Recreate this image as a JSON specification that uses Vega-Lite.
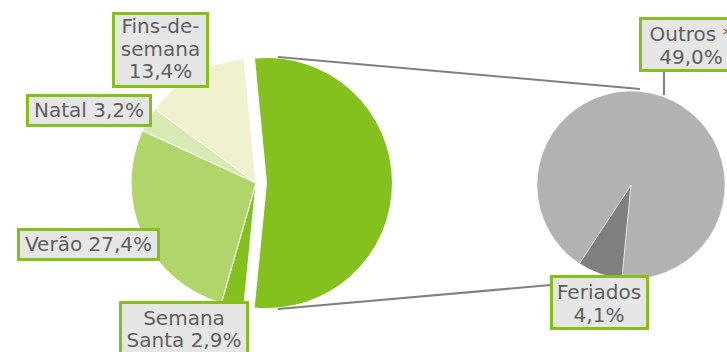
{
  "$schema": "https://vega.github.io/schema/vega-lite/v6.json",
  "width": 727,
  "height": 352,
  "padding": 0,
  "autosize": {"type": "none"},
  "background": "white",
  "config": {
    "view": {"stroke": null},
    "axis": {"disable": true},
    "legend": {"disable": true},
    "text": {"font": "DejaVu Sans", "fontSize": 20, "fill": "#5f5f5f", "lineBreak": "\n", "lineHeight": 22.5, "align": "center", "baseline": "middle"}
  },
  "datasets": {
    "main": [
      {"slice": "Outros e Feriados", "value": 53.1, "label": ""},
      {"slice": "Semana Santa", "value": 2.9, "label": "Semana\nSanta 2,9%"},
      {"slice": "Verão", "value": 27.4, "label": "Verão 27,4%"},
      {"slice": "Natal", "value": 3.2, "label": "Natal 3,2%"},
      {"slice": "Fins-de-semana", "value": 13.4, "label": "Fins-de-\nsemana\n13,4%"}
    ],
    "sub": [
      {"slice": "Feriados", "value": 4.1, "label": "Feriados\n4,1%"},
      {"slice": "Outros *", "value": 49.0, "label": "Outros *\n49,0%"}
    ]
  },
  "resolve": {"scale": {"theta": "independent"}},
  "layer": [
    {
      "data": {"name": "main"},
      "transform": [{"filter": "datum.slice === 'Outros e Feriados'"}],
      "layer": [
        {
          "mark": {"type": "rule", "stroke": "#808080", "strokeWidth": 2},
          "encoding": {
            "x": {"datum": 278, "type": "quantitative", "scale": {"domain": [0, 727], "nice": false, "zero": false}},
            "y": {"datum": 57, "type": "quantitative", "scale": {"domain": [0, 352], "nice": false, "zero": false, "reverse": true}},
            "x2": {"datum": 640},
            "y2": {"datum": 89}
          }
        },
        {
          "mark": {"type": "rule", "stroke": "#808080", "strokeWidth": 2},
          "encoding": {
            "x": {"datum": 278, "type": "quantitative"},
            "y": {"datum": 309, "type": "quantitative"},
            "x2": {"datum": 631},
            "y2": {"datum": 278}
          }
        },
        {
          "mark": {"type": "rule", "stroke": "#808080", "strokeWidth": 2},
          "encoding": {
            "x": {"datum": 664, "type": "quantitative"},
            "y": {"datum": 72, "type": "quantitative"},
            "x2": {"datum": 664},
            "y2": {"datum": 95}
          }
        }
      ]
    },
    {
      "data": {"name": "main"},
      "transform": [{"window": [{"op": "row_number", "as": "i"}]}],
      "mark": {"type": "arc", "radius": 125, "stroke": "white", "strokeWidth": 1},
      "encoding": {
        "x": {"datum": 256, "type": "quantitative"},
        "y": {"datum": 183, "type": "quantitative"},
        "theta": {"field": "value", "type": "quantitative", "stack": true, "scale": {"range": [-0.096, 6.187]}},
        "order": {"field": "i", "type": "quantitative"},
        "color": {"field": "slice", "type": "nominal", "scale": {
          "domain": ["Outros e Feriados", "Semana Santa", "Verão", "Natal", "Fins-de-semana", "Feriados", "Outros *"],
          "range": ["#84c01e", "#84c01e", "#b0d66b", "#d8eab4", "#f1f1cf", "#7f7f7f", "#b2b2b2"]}},
        "opacity": {"condition": {"test": "datum.slice === 'Outros e Feriados'", "value": 0}, "value": 1}
      }
    },
    {
      "data": {"name": "main"},
      "transform": [{"window": [{"op": "row_number", "as": "i"}]}],
      "mark": {"type": "arc", "radius": 125},
      "encoding": {
        "x": {"datum": 267, "type": "quantitative"},
        "y": {"datum": 183, "type": "quantitative"},
        "theta": {"field": "value", "type": "quantitative", "stack": true, "scale": {"range": [-0.096, 6.187]}},
        "order": {"field": "i", "type": "quantitative"},
        "color": {"field": "slice", "type": "nominal"},
        "opacity": {"condition": {"test": "datum.slice === 'Outros e Feriados'", "value": 1}, "value": 0}
      }
    },
    {
      "data": {"name": "sub"},
      "transform": [{"window": [{"op": "row_number", "as": "i"}]}],
      "mark": {"type": "arc", "radius": 94, "stroke": "white", "strokeWidth": 0.5},
      "encoding": {
        "x": {"datum": 631, "type": "quantitative"},
        "y": {"datum": 185, "type": "quantitative"},
        "theta": {"field": "value", "type": "quantitative", "stack": true, "scale": {"range": [3.238, 9.521]}},
        "order": {"field": "i", "type": "quantitative"},
        "color": {"field": "slice", "type": "nominal"}
      }
    },
    {
      "data": {"name": "main"},
      "transform": [{"filter": "datum.slice === 'Fins-de-semana'"}],
      "layer": [
        {"mark": {"type": "rect", "fill": "#e6e6e6", "stroke": "#84bf1c", "strokeWidth": 3},
         "encoding": {"x": {"datum": 113.5, "type": "quantitative"}, "x2": {"datum": 207.5}, "y": {"datum": 13.5, "type": "quantitative"}, "y2": {"datum": 86.5}}},
        {"mark": {"type": "text"},
         "encoding": {"x": {"datum": 160.5, "type": "quantitative"}, "y": {"datum": 27, "type": "quantitative"}, "text": {"field": "label"}}}
      ]
    },
    {
      "data": {"name": "main"},
      "transform": [{"filter": "datum.slice === 'Natal'"}],
      "layer": [
        {"mark": {"type": "rect", "fill": "#e6e6e6", "stroke": "#84bf1c", "strokeWidth": 3},
         "encoding": {"x": {"datum": 27.5, "type": "quantitative"}, "x2": {"datum": 150.5}, "y": {"datum": 95.5, "type": "quantitative"}, "y2": {"datum": 125.5}}},
        {"mark": {"type": "text"},
         "encoding": {"x": {"datum": 89, "type": "quantitative"}, "y": {"datum": 111, "type": "quantitative"}, "text": {"field": "label"}}}
      ]
    },
    {
      "data": {"name": "main"},
      "transform": [{"filter": "datum.slice === 'Verão'"}],
      "layer": [
        {"mark": {"type": "rect", "fill": "#e6e6e6", "stroke": "#84bf1c", "strokeWidth": 3},
         "encoding": {"x": {"datum": 18.5, "type": "quantitative"}, "x2": {"datum": 158.5}, "y": {"datum": 229.5, "type": "quantitative"}, "y2": {"datum": 259.5}}},
        {"mark": {"type": "text"},
         "encoding": {"x": {"datum": 88.5, "type": "quantitative"}, "y": {"datum": 245, "type": "quantitative"}, "text": {"field": "label"}}}
      ]
    },
    {
      "data": {"name": "main"},
      "transform": [{"filter": "datum.slice === 'Semana Santa'"}],
      "layer": [
        {"mark": {"type": "rect", "fill": "#e6e6e6", "stroke": "#84bf1c", "strokeWidth": 3},
         "encoding": {"x": {"datum": 120.5, "type": "quantitative"}, "x2": {"datum": 247.5}, "y": {"datum": 302.5, "type": "quantitative"}, "y2": {"datum": 372}}},
        {"mark": {"type": "text"},
         "encoding": {"x": {"datum": 184, "type": "quantitative"}, "y": {"datum": 318.5, "type": "quantitative"}, "text": {"field": "label"}}}
      ]
    },
    {
      "data": {"name": "sub"},
      "transform": [{"filter": "datum.slice === 'Outros *'"}],
      "layer": [
        {"mark": {"type": "rect", "fill": "#e6e6e6", "stroke": "#84bf1c", "strokeWidth": 3},
         "encoding": {"x": {"datum": 640.5, "type": "quantitative"}, "x2": {"datum": 745}, "y": {"datum": 18.5, "type": "quantitative"}, "y2": {"datum": 70.5}}},
        {"mark": {"type": "text"},
         "encoding": {"x": {"datum": 691, "type": "quantitative"}, "y": {"datum": 35, "type": "quantitative"}, "text": {"field": "label"}}}
      ]
    },
    {
      "data": {"name": "sub"},
      "transform": [{"filter": "datum.slice === 'Feriados'"}],
      "layer": [
        {"mark": {"type": "rect", "fill": "#e6e6e6", "stroke": "#84bf1c", "strokeWidth": 3},
         "encoding": {"x": {"datum": 551.5, "type": "quantitative"}, "x2": {"datum": 647.5}, "y": {"datum": 276.5, "type": "quantitative"}, "y2": {"datum": 328.5}}},
        {"mark": {"type": "text"},
         "encoding": {"x": {"datum": 599, "type": "quantitative"}, "y": {"datum": 293, "type": "quantitative"}, "text": {"field": "label"}}}
      ]
    }
  ]
}
